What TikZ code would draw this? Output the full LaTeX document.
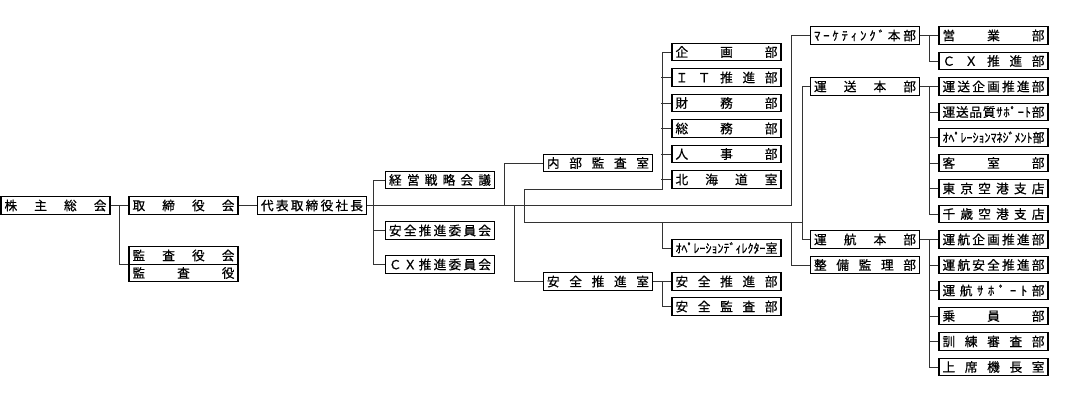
\documentclass[tikz,border=0pt]{standalone}
\usepackage{fontspec}
\usepackage{graphicx}
\newfontfamily\jp[FakeBold=0.6]{Noto Sans CJK JP}
\makeatletter
\newlength\bxtw \setlength\bxtw{76.5pt}
\def\Dist@end{\relax}
\def\Dist#1{\hbox to \bxtw{\Dist@a#1\Dist@end}}
\def\Dist@a#1{#1\Dist@b}
\def\Dist@b#1{\ifx#1\Dist@end\else\hfill#1\expandafter\Dist@b\fi}
\makeatother
\newcommand\Fit[1]{\resizebox{\bxtw}{\height}{#1}}
\begin{document}
\begin{tikzpicture}[x=0.75pt,y=-0.75pt,
  bx/.style={draw=black,line width=0.9pt,fill=white,inner sep=0pt,
    minimum width=81.75pt,minimum height=13.1pt,
    font=\jp\fontsize{9.5}{9.5}\selectfont},
  ln/.style={draw=black!80,line width=0.75pt}]
\useasboundingbox (0,0) rectangle (1080,414);
% column A-C
\node[bx] (kabu) at (55.5,205.5) {\Dist{株主総会}};
\node[bx] (tori) at (183.5,205.5) {\Dist{取締役会}};
\node[bx] (kansakai) at (183.5,255.5) {\Dist{監査役会}};
\node[bx] (kansa) at (183.5,273) {\Dist{監査役}};
\node[bx] (shacho) at (312,205.5) {\Dist{代表取締役社長}};
% column D
\node[bx] (keiei) at (440,180) {\Dist{経営戦略会議}};
\node[bx] (anzeniin) at (440,230.5) {\Dist{安全推進委員会}};
\node[bx] (cxiin) at (440,264.5) {\Dist{ＣＸ推進委員会}};
% column E
\node[bx] (naibu) at (598,163) {\Dist{内部監査室}};
\node[bx] (anzenshitsu) at (598,281.5) {\Dist{安全推進室}};
% column F
\node[bx] (kikaku) at (726.5,52) {\Dist{企画部}};
\node[bx] (it) at (726.5,77.5) {\Dist{ＩＴ推進部}};
\node[bx] (zaimu) at (726.5,103) {\Dist{財務部}};
\node[bx] (somu) at (726.5,128.5) {\Dist{総務部}};
\node[bx] (jinji) at (726.5,154) {\Dist{人事部}};
\node[bx] (hokkaido) at (726.5,179.5) {\Dist{北海道室}};
\node[bx] (opdir) at (726.5,248) {\Fit{ｵﾍﾟﾚｰｼｮﾝﾃﾞｨﾚｸﾀｰ室}};
\node[bx] (anzensui) at (726.5,281.5) {\Dist{安全推進部}};
\node[bx] (anzenkan) at (726.5,306.5) {\Dist{安全監査部}};
% column G
\node[bx] (mk) at (865,35.5) {\Dist{ﾏｰｹﾃｨﾝｸﾞ本部}};
\node[bx] (unso) at (865,86.5) {\Dist{運送本部}};
\node[bx] (unko) at (865,239.5) {\Dist{運航本部}};
\node[bx] (seibi) at (865,265) {\Dist{整備監理部}};
% column H
\node[bx] (eigyo) at (993.5,35.5) {\Dist{営業部}};
\node[bx] (cxsui) at (993.5,61) {\Dist{ＣＸ推進部}};
\node[bx] (usk) at (993.5,86.5) {\Dist{運送企画推進部}};
\node[bx] (usq) at (993.5,112) {\Dist{運送品質ｻﾎﾟｰﾄ部}};
\node[bx] (opm) at (993.5,137.5) {\Fit{ｵﾍﾟﾚｰｼｮﾝﾏﾈｼﾞﾒﾝﾄ部}};
\node[bx] (kyaku) at (993.5,163) {\Dist{客室部}};
\node[bx] (tokyo) at (993.5,188.5) {\Dist{東京空港支店}};
\node[bx] (chitose) at (993.5,214) {\Dist{千歳空港支店}};
\node[bx] (ukk) at (993.5,239.5) {\Dist{運航企画推進部}};
\node[bx] (uas) at (993.5,265) {\Dist{運航安全推進部}};
\node[bx] (uks) at (993.5,290.5) {\Dist{運航ｻﾎﾟｰﾄ部}};
\node[bx] (join) at (993.5,316) {\Dist{乗員部}};
\node[bx] (kunren) at (993.5,341.5) {\Dist{訓練審査部}};
\node[bx] (joseki) at (993.5,367) {\Dist{上席機長室}};
% connectors
\coordinate (jA) at (119,205.5);
\draw[ln] (kabu.east) -- (tori.west);
\draw[ln] (jA) |- (kansakai.south west);
\draw[ln] (tori.east) -- (shacho.west);
\coordinate (tM) at (791,205.5);
\draw[ln] (shacho.east) -- (tM) |- (mk.west);
\draw[ln] (keiei.west) -- ++(-11,0) |- (cxiin.west);
\draw[ln] (anzeniin.west) -- ++(-11,0);
\coordinate (tN) at (504,205.5);
\draw[ln] (tN) |- (naibu.west);
\coordinate (tS) at (514,205.5);
\draw[ln] (tS) |- (anzenshitsu.west);
\coordinate (bF) at (662,189);
\coordinate (lA) at (524,189);
\coordinate (lB) at (524,222);
\coordinate (lC) at (802,222);
\draw[ln] (kikaku.west) -| (bF) -- (lA) -- (lB) -- (lC) |- (unso.west);
\draw[ln] (lC) |- (unko.west);
\foreach \n in {it,zaimu,somu,jinji,hokkaido} \draw[ln] (\n.west) -- ++(-10,0);
\coordinate (lD) at (662,222);
\draw[ln] (lD) |- (opdir.west);
\coordinate (lE) at (791,222);
\draw[ln] (lE) |- (seibi.west);
\draw[ln] (anzenshitsu.east) -- (anzensui.west);
\draw[ln] (anzenkan.west) -- ++(-9,0) |- (anzensui.west);
\draw[ln] (mk.east) -- (eigyo.west);
\draw[ln] (cxsui.west) -- ++(-9,0) |- (eigyo.west);
\draw[ln] (unso.east) -- (usk.west);
\draw[ln] (chitose.west) -- ++(-9,0) |- (usk.west);
\foreach \n in {usq,opm,kyaku,tokyo} \draw[ln] (\n.west) -- ++(-9,0);
\draw[ln] (unko.east) -- (ukk.west);
\draw[ln] (joseki.west) -- ++(-9,0) |- (ukk.west);
\foreach \n in {uas,uks,join,kunren} \draw[ln] (\n.west) -- ++(-9,0);
\end{tikzpicture}
\end{document}
